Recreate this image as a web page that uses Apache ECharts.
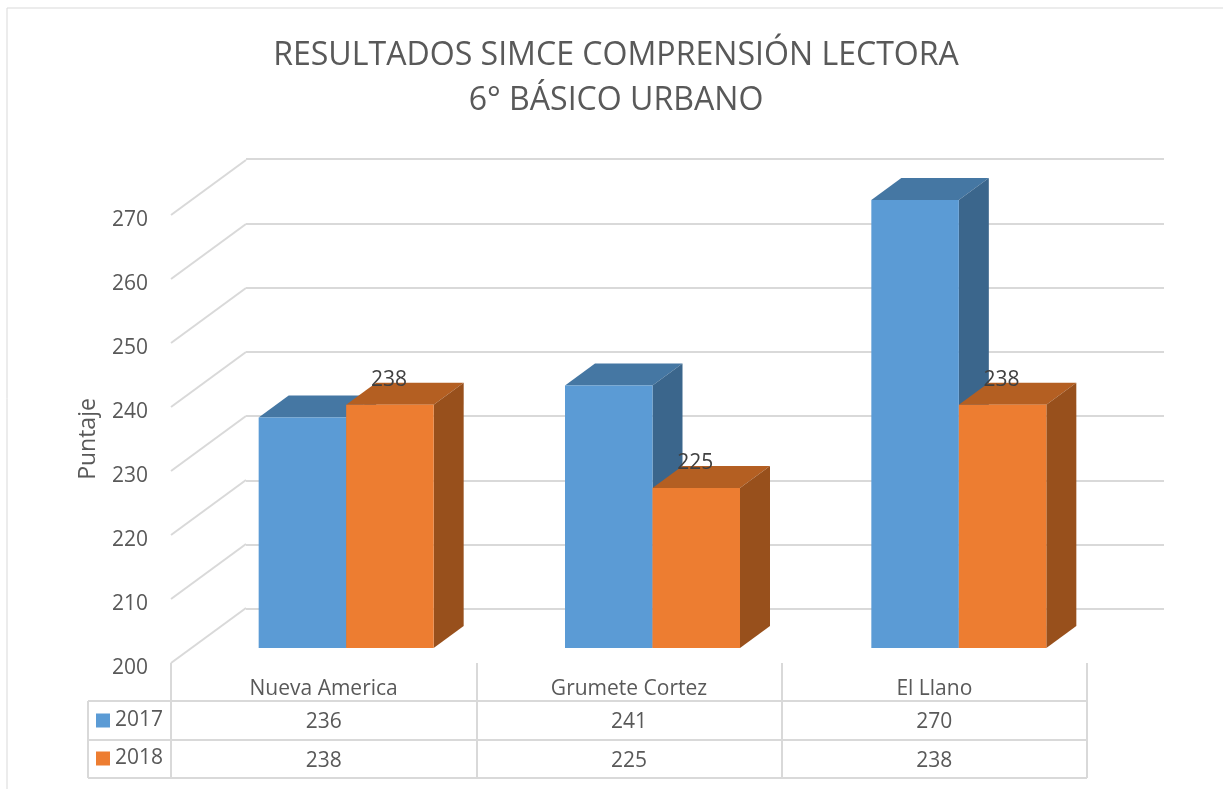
<!DOCTYPE html>
<html>
<head>
<meta charset="utf-8">
<title>Resultados SIMCE</title>
<style>
html, body { margin: 0; padding: 0; background: #fff; }
#main { width: 1223px; height: 789px; }
</style>
<script src="https://cdn.jsdelivr.net/npm/echarts@6/dist/echarts.min.js"></script>
</head>
<body>
<div id="main"></div>
<script>
const categories = ['Nueva America', 'Grumete Cortez', 'El Llano'];
const values2017 = [236, 241, 270];
const values2018 = [238, 225, 238];
const yTicks = [200, 210, 220, 230, 240, 250, 260, 270];

const FONT = '"Open Sans", sans-serif';
const TEXT = '#595959';
const LINE = '#D9D9D9';
const BAR_W = 87.5;
const DEPTH_X = 30;
const DEPTH_Y = 22;

// one 3d column: front, top and side face
function bar3d(colors, dir, showLabel) {
  return function (params, api) {
    const i = api.value(0);
    const v = api.value(1);
    const top = api.coord([i, v]);
    const base = api.coord([i, 200]);
    const x0 = dir < 0 ? top[0] - BAR_W : top[0];
    const x1 = x0 + BAR_W;
    const children = [
      { type: 'polygon', shape: { points: [[x0, top[1]], [x1, top[1]], [x1 + DEPTH_X, top[1] - DEPTH_Y], [x0 + DEPTH_X, top[1] - DEPTH_Y]] }, style: { fill: colors[1] } },
      { type: 'polygon', shape: { points: [[x1, top[1]], [x1 + DEPTH_X, top[1] - DEPTH_Y], [x1 + DEPTH_X, base[1] - DEPTH_Y], [x1, base[1]]] }, style: { fill: colors[2] } },
      { type: 'rect', shape: { x: x0, y: top[1], width: BAR_W, height: base[1] - top[1] }, style: { fill: colors[0] } }
    ];
    if (showLabel) {
      children.push({
        type: 'text',
        style: { x: (x0 + x1) / 2 - 1, y: top[1] - 25, text: String(v), fill: '#404040', font: '21px ' + FONT, align: 'center', verticalAlign: 'middle' }
      });
    }
    return { type: 'group', children: children };
  };
}

const tableLines = [
  [88, 701, 1087, 701],
  [88, 740, 1087, 740],
  [88, 778, 1087, 778],
  [88, 701, 88, 778]
];

const option = {
  animation: false,
  backgroundColor: '#fff',
  title: {
    text: 'RESULTADOS SIMCE COMPRENSIÓN LECTORA\n6° BÁSICO URBANO',
    left: 611,
    top: 28,
    textAlign: 'center',
    textStyle: { fontFamily: FONT, fontSize: 32.1, fontWeight: 'normal', color: TEXT, lineHeight: 45 }
  },
  legend: {
    orient: 'vertical',
    left: 91,
    top: 705,
    itemWidth: 14,
    itemHeight: 14,
    itemGap: 17,
    data: [{ name: '2017', icon: 'rect' }, { name: '2018', icon: 'rect' }],
    textStyle: { fontFamily: FONT, fontSize: 21, color: TEXT }
  },
  grid: [
    { left: 171, top: 215, width: 916, height: 448 },   // front plane, name and table
    { left: 193, top: 200, width: 919, height: 448 },   // columns
    { left: 246, top: 159, width: 918, height: 450 },   // back wall
    { left: 171, top: 220, width: 916, height: 448 }    // tick labels
  ],
  xAxis: [
    {
      gridIndex: 0, type: 'category', data: categories,
      axisLine: { show: false },
      axisTick: { show: true, length: 115, lineStyle: { color: LINE, width: 2 } },
      axisLabel: { margin: 16, fontFamily: FONT, fontSize: 21, color: TEXT }
    },
    {
      gridIndex: 0, type: 'category', position: 'bottom', offset: 38, data: values2017.map(String),
      axisLine: { show: false }, axisTick: { show: false },
      axisLabel: { margin: 11, fontFamily: FONT, fontSize: 21, color: TEXT }
    },
    {
      gridIndex: 0, type: 'category', position: 'bottom', offset: 77, data: values2018.map(String),
      axisLine: { show: false }, axisTick: { show: false },
      axisLabel: { margin: 11, fontFamily: FONT, fontSize: 21, color: TEXT }
    },
    { gridIndex: 1, type: 'category', data: categories, show: false },
    { gridIndex: 2, type: 'category', data: categories, show: false },
    { gridIndex: 3, type: 'category', data: categories, show: false }
  ],
  yAxis: [
    {
      gridIndex: 0, type: 'value', min: 200, max: 270, interval: 10,
      name: 'Puntaje', nameLocation: 'middle', nameGap: 71, nameRotate: 90,
      nameTextStyle: { fontFamily: FONT, fontSize: 23, color: TEXT },
      axisLine: { show: false }, axisTick: { show: false }, splitLine: { show: false },
      axisLabel: { show: false }
    },
    { gridIndex: 1, type: 'value', min: 200, max: 270, show: false },
    {
      gridIndex: 2, type: 'value', min: 200, max: 270, interval: 10,
      axisLine: { show: false }, axisTick: { show: false }, axisLabel: { show: false },
      splitLine: { show: true, lineStyle: { color: LINE, width: 2 } }
    },
    {
      gridIndex: 3, type: 'value', min: 200, max: 270, interval: 10,
      axisLine: { show: false }, axisTick: { show: false }, splitLine: { show: false },
      axisLabel: { margin: 23, fontFamily: FONT, fontSize: 21, color: TEXT }
    }
  ],
  graphic: tableLines.map(function (l) {
    return {
      type: 'line', silent: true,
      shape: { x1: l[0], y1: l[1], x2: l[2], y2: l[3] },
      style: { stroke: LINE, lineWidth: 2 }
    };
  }).concat([
    { type: 'line', silent: true, shape: { x1: 7, y1: 8, x2: 1223, y2: 8 }, style: { stroke: LINE, lineWidth: 1 } },
    { type: 'line', silent: true, shape: { x1: 7, y1: 8, x2: 7, y2: 789 }, style: { stroke: LINE, lineWidth: 1 } }
  ]),
  series: [
    {
      // diagonal part of the gridlines, front plane to back wall
      type: 'custom', name: 'grid', xAxisIndex: 0, yAxisIndex: 0, silent: true, z: 1,
      data: yTicks.map(function (t) { return [0, t]; }),
      renderItem: function (params, api) {
        const y = api.coord([0, api.value(1)])[1];
        const x = params.coordSys.x;
        return { type: 'line', shape: { x1: x, y1: y, x2: x + 75, y2: y - 55 }, style: { stroke: LINE, lineWidth: 2 } };
      }
    },
    {
      type: 'custom', name: '2017', xAxisIndex: 3, yAxisIndex: 1, z: 3,
      itemStyle: { color: '#5B9BD5' },
      data: values2017.map(function (v, i) { return [i, v]; }),
      renderItem: bar3d(['#5B9BD5', '#4577A3', '#3B668C'], -1, false)
    },
    {
      type: 'custom', name: '2018', xAxisIndex: 3, yAxisIndex: 1, z: 4,
      itemStyle: { color: '#ED7D31' },
      data: values2018.map(function (v, i) { return [i, v]; }),
      renderItem: bar3d(['#ED7D31', '#B45F22', '#98501C'], 1, true)
    }
  ]
};

const chart = echarts.init(document.getElementById('main'));
chart.setOption(option);
</script>
</body>
</html>
